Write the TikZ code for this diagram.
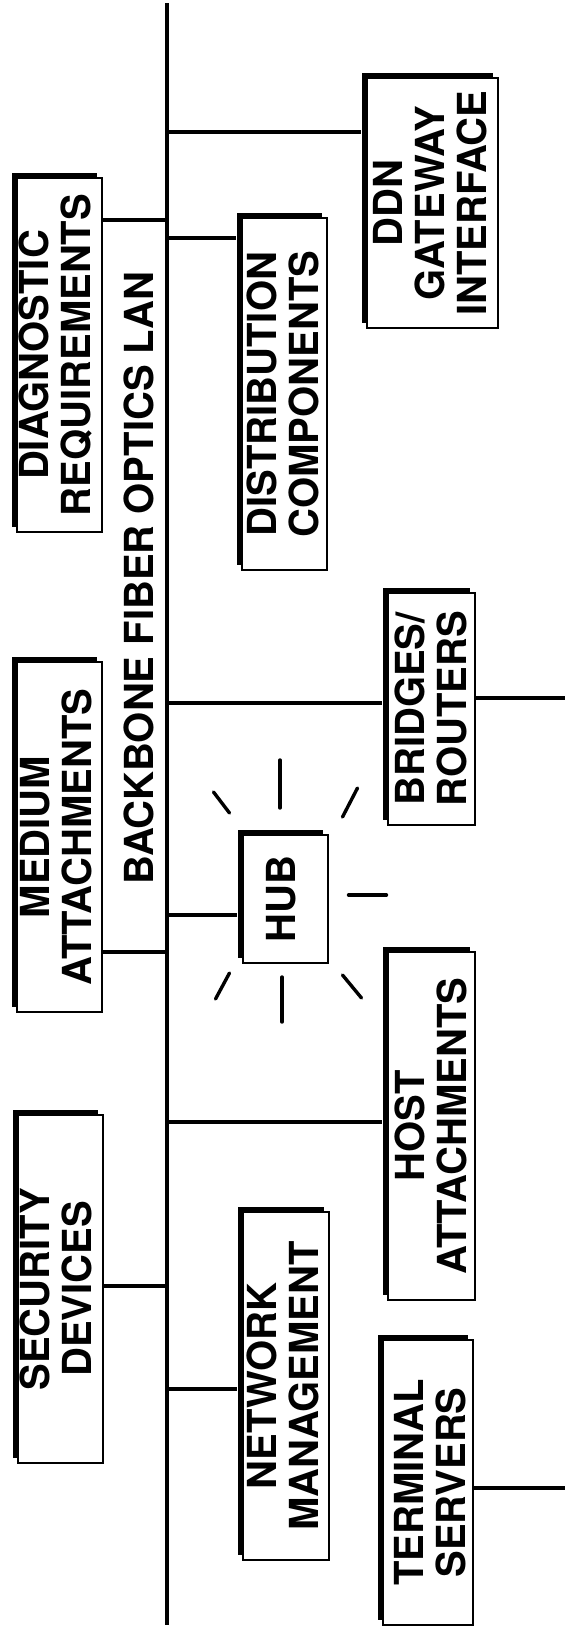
\documentclass[tikz,border=0pt]{standalone}
\usepackage{fontspec}
\setmainfont{TeX Gyre Heros}
\usepackage{graphicx}
\usetikzlibrary{shadows}

% upright text set sideways, lines stacked left to right (#1 = nudge to the right)
\newcommand{\vlab}[2][0pt]{\rotatebox{90}{\raisebox{-#1}[\height][\depth]{%
  \begin{tabular}{@{}c@{}}#2\end{tabular}}}}

\begin{document}
\begin{tikzpicture}[x=1pt,y=-1pt,
    unit/.style={rectangle,draw=black,fill=white,line width=1.8pt,inner sep=0pt,
                 font=\fontsize{40}{41}\selectfont\bfseries,
                 general shadow={fill=black,shadow xshift=-5.5pt,shadow yshift=5.5pt}},
    bus/.style={line width=3.8pt},
    link/.style={line width=3.4pt},
    ray/.style={line width=3.4pt,line cap=round}]
  \useasboundingbox (0,0) rectangle (565,1631);

  % backbone
  \coordinate (bbtop) at (167,3);
  \coordinate (bbbot) at (167,1625);
  \draw[bus] (bbtop) -- (bbbot);
  \node[font=\fontsize{40}{41}\selectfont\bfseries,inner sep=0pt] (lan) at (140,578)
    {\vlab[5pt]{BACKBONE FIBER OPTICS LAN}};

  % left side
  \node[unit,minimum width=85pt,minimum height=354pt] (diag) at (59.5,355)
    {\vlab[1.5pt]{DIAGNOSTIC\\REQUIREMENTS}};
  \node[unit,minimum width=85pt,minimum height=350pt] (medium) at (59.5,837)
    {\vlab[3pt]{MEDIUM\\ATTACHMENTS}};
  \node[unit,minimum width=85pt,minimum height=348pt] (secur) at (60.5,1289)
    {\vlab[1pt]{SECURITY\\DEVICES}};

  % middle column
  \node[unit,minimum width=85pt,minimum height=352pt] (distr) at (284.5,394)
    {\vlab[4.5pt]{DISTRIBUTION\\COMPONENTS}};
  \node[unit,minimum width=85pt,minimum height=128pt] (hub) at (285.5,899)
    {\vlab[1.5pt]{HUB}};
  \node[unit,minimum width=86pt,minimum height=348pt] (netman) at (286,1386)
    {\vlab[3pt]{NETWORK\\MANAGEMENT}};

  % right column
  \node[unit,minimum width=131pt,minimum height=250pt] (ddn) at (432.5,203)
    {\vlab[4pt]{DDN\\GATEWAY\\INTERFACE}};
  \node[unit,minimum width=87pt,minimum height=232pt] (bridge) at (431.5,709)
    {\vlab[5.5pt]{BRIDGES/\\ROUTERS}};
  \node[unit,minimum width=87pt,minimum height=348pt] (host) at (431.5,1126)
    {\vlab[5.5pt]{HOST\\ATTACHMENTS}};
  \node[unit,minimum width=90pt,minimum height=285pt] (term) at (428,1482.5)
    {\vlab[8pt]{TERMINAL\\SERVERS}};

  % taps on the backbone
  \coordinate (tddn) at (167,132);
  \coordinate (tdiag) at (167,220);
  \coordinate (tdistr) at (167,238);
  \coordinate (tbridge) at (167,703);
  \coordinate (thub) at (167,915);
  \coordinate (tmedium) at (167,952);
  \coordinate (thost) at (167,1122);
  \coordinate (tsecur) at (167,1286);
  \coordinate (tnetman) at (167,1389);
  \coordinate (brout) at (565,698);
  \coordinate (termout) at (565,1488);

  \draw[link] (tddn) -- ([xshift=-5pt]tddn -| ddn.west);
  \draw[link] (tdiag) -- (tdiag -| diag.east);
  \draw[link] (tdistr) -- ([xshift=-5pt]tdistr -| distr.west);
  \draw[link] (tbridge) -- ([xshift=-5pt]tbridge -| bridge.west);
  \draw[link] (thub) -- ([xshift=-5pt]thub -| hub.west);
  \draw[link] (tmedium) -- (tmedium -| medium.east);
  \draw[link] (thost) -- ([xshift=-5pt]thost -| host.west);
  \draw[link] (tsecur) -- (tsecur -| secur.east);
  \draw[link] (tnetman) -- ([xshift=-5pt]tnetman -| netman.west);
  \draw[link] (brout -| bridge.east) -- (brout);
  \draw[link] (termout -| term.east) -- (termout);

  % rays round the hub
  \foreach \ax/\ay/\bx/\by in {-5.5/-139/-5.5/-91, -72/-107/-56/-86, 72/-111/57/-82,
      63/-4/101/-4, -56/74/-70/100, -3.5/78/-3.5/123, 57/76/76/99}
    \draw[ray] ([shift={(\ax,\ay)}]hub.center) -- ([shift={(\bx,\by)}]hub.center);
\end{tikzpicture}
\end{document}
